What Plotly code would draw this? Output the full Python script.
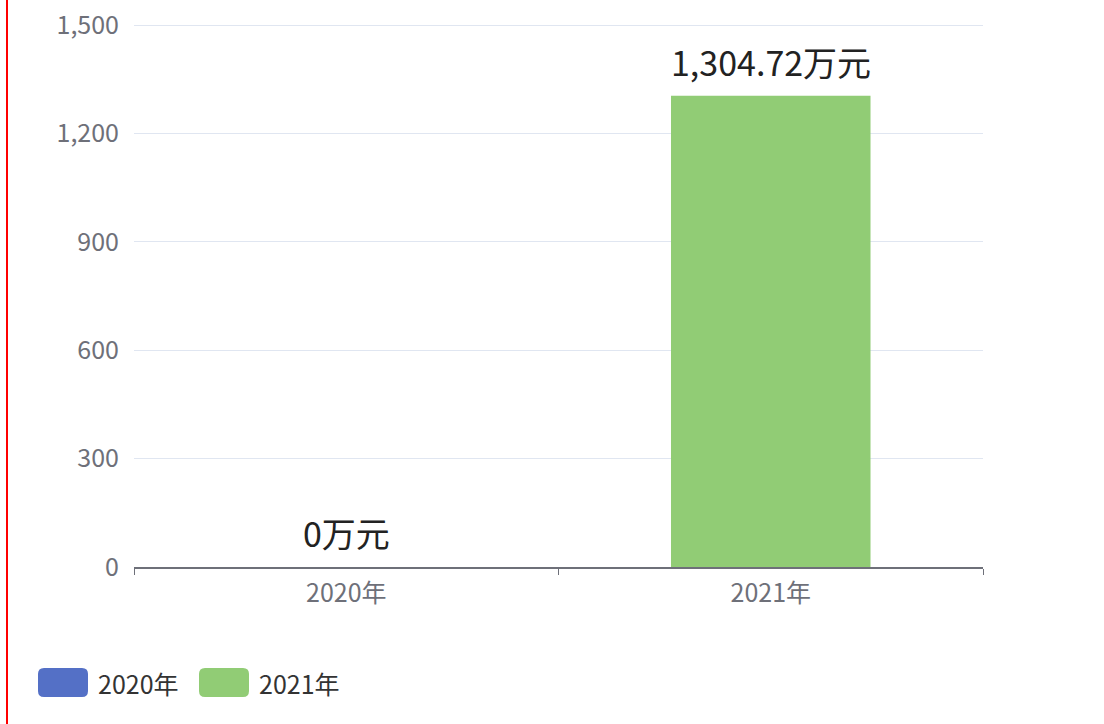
import plotly.graph_objects as go

# ---- data ----
categories = ["2020年", "2021年"]
series_names = ["2020年", "2021年"]
values = [0, 1304.72]
unit = "万元"
colors = ["#5470C6", "#91CC75"]
y_ticks = [0, 300, 600, 900, 1200, 1500]

W, H = 1104, 724
ML, MR, MT, MB = 134, 121, 24, 157
PW, PH = W - ML - MR, H - MT - MB

def px_x(px):
    return (px - ML) / PW

def px_y(py):
    return (H - MB - py) / PH

def fmt(v):
    s = f"{v:,.2f}".rstrip("0").rstrip(".")
    return s + unit

FONT = "Noto Sans CJK SC, Microsoft YaHei, sans-serif"

fig = go.Figure()
for name, cat, v, c in zip(series_names, categories, values, colors):
    fig.add_trace(go.Bar(
        x=[cat], y=[v], name=name, width=0.47,
        marker=dict(color=c, line=dict(width=0)),
        showlegend=False, hoverinfo="skip",
    ))
    fig.add_annotation(
        x=cat, y=v, xref="x", yref="y", text=fmt(v), showarrow=False,
        yanchor="bottom", yshift=8,
        font=dict(family=FONT, size=34, color="#222"),
    )

# custom legend (large rounded swatches like the reference)
legend_x = [38, 199]
sw_w, sw_h, r = 50, 29, 6
sw_top = 668
for name, c, lx in zip(series_names, colors, legend_x):
    x0, x1 = lx, lx + sw_w
    y0, y1 = sw_top, sw_top + sw_h
    pts = [
        ("M", x0 + r, y0), ("L", x1 - r, y0), ("Q", x1, y0, x1, y0 + r),
        ("L", x1, y1 - r), ("Q", x1, y1, x1 - r, y1), ("L", x0 + r, y1),
        ("Q", x0, y1, x0, y1 - r), ("L", x0, y0 + r), ("Q", x0, y0, x0 + r, y0),
    ]
    path = ""
    for p in pts:
        if p[0] == "Q":
            path += f"Q{px_x(p[1])},{px_y(p[2])} {px_x(p[3])},{px_y(p[4])} "
        else:
            path += f"{p[0]}{px_x(p[1])},{px_y(p[2])} "
    path += "Z"
    fig.add_shape(type="path", path=path, xref="paper", yref="paper",
                  fillcolor=c, line=dict(width=0), layer="above")
    fig.add_annotation(
        x=px_x(x1 + 8), y=px_y(sw_top + sw_h / 2), xref="paper", yref="paper",
        text=name, showarrow=False, xanchor="left", yanchor="middle",
        font=dict(family=FONT, size=25, color="#333"),
    )

# red left border line
fig.add_shape(type="line", xref="paper", yref="paper",
              x0=px_x(7), x1=px_x(7), y0=px_y(0), y1=px_y(H),
              line=dict(color="#FF0000", width=2), layer="above")

fig.update_layout(
    width=W, height=H,
    margin=dict(l=ML, r=MR, t=MT, b=MB),
    paper_bgcolor="white", plot_bgcolor="white",
    barmode="overlay",
    showlegend=False,
    font=dict(family=FONT, size=25, color="#6E7079"),
    xaxis=dict(
        type="category", categoryorder="array", categoryarray=categories,
        tickson="boundaries", ticks="outside", ticklen=6, tickcolor="#6E7079",
        showline=True, linecolor="#6E7079", linewidth=1.5,
        showgrid=False, zeroline=False, ticklabelstandoff=3,
        automargin=False,
        tickfont=dict(family=FONT, size=25, color="#6E7079"),
    ),
    yaxis=dict(
        range=[0, 1503], tickvals=y_ticks, tickformat=",",
        showgrid=True, gridcolor="#E0E6F1", gridwidth=1,
        zeroline=False, showline=False, ticks="",
        ticklabelstandoff=14, automargin=False,
        tickfont=dict(family=FONT, size=25, color="#6E7079"),
    ),
)

fig.write_html("out.html")
